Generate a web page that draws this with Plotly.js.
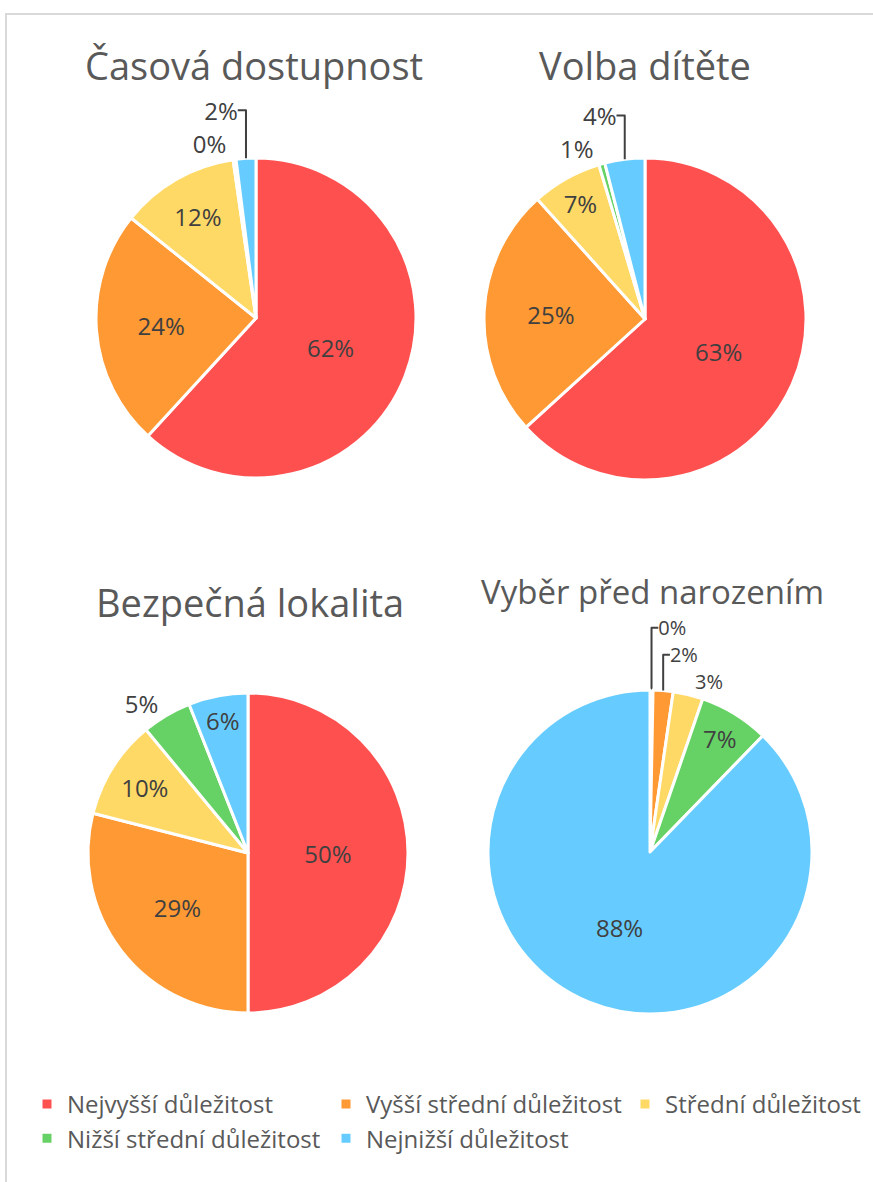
<!DOCTYPE html>
<html><head><meta charset="utf-8">
<script src="https://cdn.plot.ly/plotly-3.0.1.min.js"></script>
<style>
html,body{margin:0;padding:0;background:#fff;overflow:hidden;width:873px;height:1182px;}
#frame{position:absolute;left:5px;top:13px;width:1200px;height:1400px;border-left:2px solid #d9d9d9;border-top:2px solid #d9d9d9;pointer-events:none;z-index:2;}
#chart{position:absolute;left:0;top:0;}
</style></head><body>
<div id="chart"></div><div id="frame"></div>
<script>
// ---- data ----
const categories = ['Nejvyšší důležitost', 'Vyšší střední důležitost', 'Střední důležitost', 'Nižší střední důležitost', 'Nejnižší důležitost'];
const chartTitles = ['Časová dostupnost', 'Volba dítěte', 'Bezpečná lokalita', 'Vyběr před narozením'];
const casovaDostupnost = [62, 24, 12, 0.3, 2];
const volbaDitete = [63, 25, 7, 0.6, 4];
const bezpecnaLokalita = [50, 29, 10, 5, 6];
const vyberPredNarozenim = [0.3, 2, 3, 7, 88];

// ---- style ----
const sliceColors = ['#FF5050', '#FF9933', '#FFD966', '#66D266', '#66CCFF'];
const FONT = 'Open Sans, Segoe UI, DejaVu Sans, sans-serif';
const W = 1000, H = 1250;
const fx = p => p / W;
const fy = p => 1 - p / H;

const pies = [
  {values: casovaDostupnost, cx: 256, cy: 318, r: 160, pos: ['inside','inside','inside','outside','outside'], out: 24, tx: 254, ty: 65, ts: 38},
  {values: volbaDitete, cx: 645, cy: 319, r: 161, pos: ['inside','inside','inside','outside','outside'], out: 24, tx: 645, ty: 65, ts: 38},
  {values: bezpecnaLokalita, cx: 248, cy: 853, r: 160, pos: ['inside','inside','inside','outside','inside'], out: 24, tx: 250, ty: 602, ts: 38},
  {values: vyberPredNarozenim, cx: 650, cy: 852, r: 162, pos: ['outside','outside','outside','inside','inside'], out: 20, tx: 652, ty: 591, ts: 33}
];

const traces = pies.map((p, i) => ({
  type: 'pie',
  name: chartTitles[i],
  labels: categories,
  values: p.values,
  sort: false,
  direction: 'clockwise',
  rotation: 0,
  marker: {colors: sliceColors, line: {color: '#ffffff', width: 3}},
  textposition: p.pos,
  texttemplate: '%{percent:.0%}',
  textfont: {family: FONT, size: 24, color: '#404040'},
  insidetextfont: {family: FONT, size: 24, color: '#404040'},
  outsidetextfont: {family: FONT, size: p.out, color: '#404040'},
  insidetextorientation: 'horizontal',
  domain: {x: [fx(p.cx - p.r), fx(p.cx + p.r)], y: [fy(p.cy + p.r), fy(p.cy - p.r)]},
  hoverinfo: 'label+percent'
}));

const annotations = pies.map((p, i) => ({
  text: chartTitles[i], xref: 'paper', yref: 'paper', x: fx(p.tx), y: fy(p.ty),
  xanchor: 'center', yanchor: 'middle', showarrow: false,
  font: {family: FONT, size: p.ts, color: '#595959'}
}));

const layout = {
  width: W, height: H,
  margin: {l: 0, r: 0, t: 0, b: 0},
  paper_bgcolor: 'rgba(0,0,0,0)',
  showlegend: true,
  legend: {
    orientation: 'h', traceorder: 'normal',
    entrywidth: 254, entrywidthmode: 'pixels',
    x: fx(27), xanchor: 'left', y: fy(1082), yanchor: 'top',
    font: {family: FONT, size: 24, color: '#595959'},
    bgcolor: 'rgba(0,0,0,0)'
  },
  annotations: annotations
};

Plotly.newPlot('chart', traces, layout, {displayModeBar: false, staticPlot: true});
</script>
</body></html>
